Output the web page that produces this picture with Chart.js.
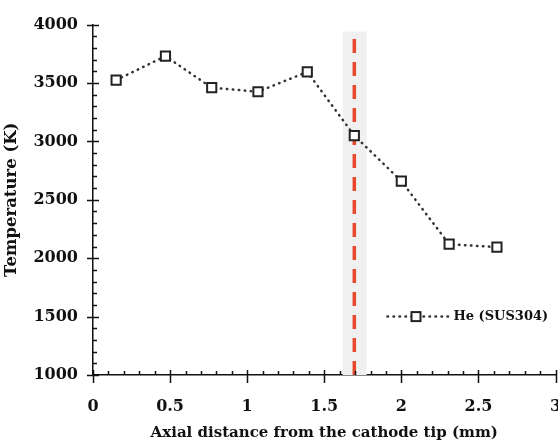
<!DOCTYPE html>
<html>
<head>
<meta charset="utf-8">
<script src="https://cdn.jsdelivr.net/npm/chart.js@4.4.0/dist/chart.umd.min.js"></script>
<style>
html, body { margin: 0; padding: 0; background: #fff; overflow: hidden; }
</style>
</head>
<body>
<!-- a bit wider than the window so the "3" label gets cut at the edge like the original -->
<canvas id="chart" width="564" height="446"></canvas>
<script>
const distance = [0.15, 0.47, 0.77, 1.07, 1.39, 1.695, 2.0, 2.31, 2.62];
const temperature = [3525, 3730, 3460, 3425, 3595, 3050, 2660, 2120, 2095];
const seriesLabel = "He (SUS304)";

// red dashed marker line and the grey band behind it
const markerX = [1.695, 1.695];
const markerY = [1000, 3900];
const bandX = [1.62, 1.775];
const bandTop = 3940;

// axis ranges / tick steps
const xRange = [0, 3], xStep = 0.5, xMinor = 0.1;
const yRange = [1000, 4000], yStep = 500, yMinor = 100;

const fontFamily = "'DejaVu Serif', serif";
const ink = "#111";

//grey band drawn before the lines
const bandPlugin = {
    id: "band",
    beforeDatasetsDraw(chart) {
        const { ctx, scales: { x, y } } = chart;
        const x0 = x.getPixelForValue(bandX[0]);
        const x1 = x.getPixelForValue(bandX[1]);
        const top = y.getPixelForValue(bandTop);
        ctx.save();
        ctx.fillStyle = "#f0f0f0";
        ctx.fillRect(x0, top, x1 - x0, y.bottom - top);
        ctx.restore();
    }
};

//major ticks cross the axis, minor ticks only on the inside
const tickPlugin = {
    id: "tickMarks",
    afterDraw(chart) {
        const { ctx, scales: { x, y } } = chart;
        ctx.save();
        ctx.strokeStyle = ink;
        ctx.lineWidth = 1.5;
        const ySteps = Math.round((yRange[1] - yRange[0]) / yMinor);
        for (let i = 0; i <= ySteps; i++) {
            const v = yRange[0] + i * yMinor;
            const py = Math.round(y.getPixelForValue(v)) + 0.5;
            const major = (v - yRange[0]) % yStep === 0;
            ctx.beginPath();
            ctx.moveTo(x.left - (major ? 6 : 0), py);
            ctx.lineTo(x.left + (major ? 6 : 4), py);
            ctx.stroke();
        }
        const xSteps = Math.round((xRange[1] - xRange[0]) / xMinor);
        for (let i = 0; i <= xSteps; i++) {
            const px = Math.round(x.getPixelForValue(xRange[0] + i * xMinor)) + 0.5;
            const major = i % Math.round(xStep / xMinor) === 0;
            ctx.beginPath();
            ctx.moveTo(px, y.bottom - (major ? 5 : 4));
            ctx.lineTo(px, y.bottom + (major ? 8 : 0));
            ctx.stroke();
        }
        ctx.restore();
    }
};

//legend sits inside the plot, lower right
const legendPlugin = {
    id: "insideLegend",
    afterDraw(chart) {
        const { ctx, chartArea } = chart;
        const ds = chart.data.datasets[0];
        const ly = chartArea.top + 292;
        const lx = chartArea.right - 168;
        ctx.save();
        ctx.strokeStyle = ds.borderColor;
        ctx.lineWidth = ds.borderWidth;
        ctx.lineCap = "round";
        ctx.setLineDash(ds.borderDash);
        ctx.beginPath();
        ctx.moveTo(lx, ly);
        ctx.lineTo(lx + 62, ly);
        ctx.stroke();
        ctx.setLineDash([]);
        ctx.fillStyle = "#fff";
        ctx.strokeStyle = ds.pointBorderColor;
        ctx.lineWidth = ds.pointBorderWidth;
        ctx.fillRect(lx + 24, ly - 4.5, 9, 9);
        ctx.strokeRect(lx + 24, ly - 4.5, 9, 9);
        ctx.fillStyle = ink;
        ctx.font = "bold 13px " + fontFamily;
        ctx.textBaseline = "middle";
        ctx.fillText(ds.label, lx + 66, ly);
        ctx.restore();
    }
};

const ctx = document.getElementById("chart").getContext("2d");
new Chart(ctx, {
    type: "line",
    data: {
        datasets: [{
            label: seriesLabel,
            data: distance.map((d, i) => ({ x: d, y: temperature[i] })),
            borderColor: "#333",
            borderWidth: 2.5,
            borderDash: [0.5, 5.5],
            borderCapStyle: "round",
            pointStyle: "rect",
            pointRadius: 6.5,
            pointBorderWidth: 2,
            pointBorderColor: "#222",
            pointBackgroundColor: "#fff",
            tension: 0
        }, {
            label: "marker",
            data: markerX.map((d, i) => ({ x: d, y: markerY[i] })),
            borderColor: "#e8492c",
            borderWidth: 3.5,
            borderDash: [14, 9],
            pointRadius: 0,
            tension: 0
        }]
    },
    options: {
        responsive: false,
        animation: false,
        devicePixelRatio: 1,
        layout: { padding: { top: 21, right: 3 } },
        plugins: {
            legend: { display: false },
            tooltip: { enabled: false }
        },
        scales: {
            x: {
                type: "linear",
                min: xRange[0],
                max: xRange[1],
                ticks: {
                    stepSize: xStep, color: ink, padding: 22,
                    font: { family: fontFamily, size: 16, weight: "bold" },
                    callback: (v) => String(v)
                },
                grid: { drawOnChartArea: false, drawTicks: false },
                border: { color: ink, width: 1.5 },
                title: { display: true, text: "Axial distance from the cathode tip (mm)", color: ink, padding: { top: 13 }, font: { family: fontFamily, size: 15, weight: "bold" } },
                afterFit(scale) {
                    scale.height = 71;
                    scale.paddingLeft = 0;
                    scale.paddingRight = 0;
                }
            },
            y: {
                min: yRange[0],
                max: yRange[1],
                ticks: {
                    stepSize: yStep, color: ink, padding: 15,
                    font: { family: fontFamily, size: 16, weight: "bold" },
                    callback: (v) => String(v)
                },
                grid: { drawOnChartArea: false, drawTicks: false },
                border: { color: ink, width: 1.5 },
                title: { display: true, text: "Temperature (K)", color: ink, padding: { top: 2, bottom: 0 }, font: { family: fontFamily, size: 16.5, weight: "bold" } },
                afterFit(scale) { scale.width = 93; }
            }
        }
    },
    plugins: [bandPlugin, tickPlugin, legendPlugin]
});
</script>
</body>
</html>
